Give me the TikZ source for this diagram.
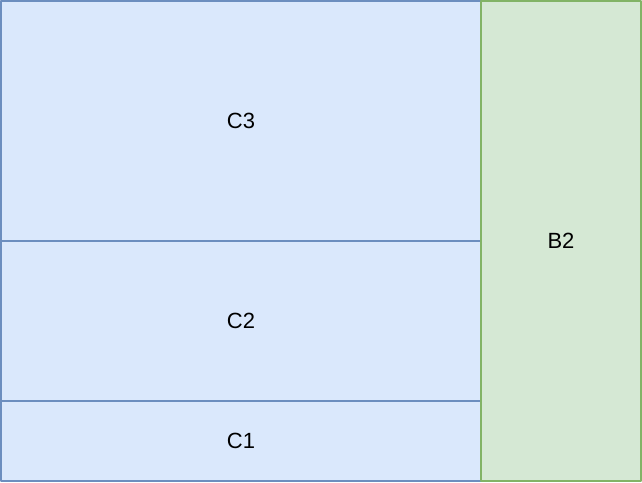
\documentclass[tikz,border=0pt]{standalone}
\usepackage{fontspec}
\setmainfont{Liberation Sans}
\definecolor{blueFill}{HTML}{DAE8FC}
\definecolor{blueLine}{HTML}{6C8EBF}
\definecolor{greenFill}{HTML}{D5E8D4}
\definecolor{greenLine}{HTML}{82B366}
\tikzset{
  cblock/.style={draw=blueLine, fill=blueFill, line width=1.5pt,
    inner sep=0pt, outer sep=0pt, font=\fontsize{16.5pt}{19pt}\selectfont},
  bblock/.style={draw=greenLine, fill=greenFill, line width=1.5pt,
    inner sep=0pt, outer sep=0pt, font=\fontsize{16.5pt}{19pt}\selectfont}
}
\begin{document}
\begin{tikzpicture}[x=0.75pt, y=-0.75pt, line cap=round, line join=round]
  \useasboundingbox (0,0) rectangle (642,482);

  % blocchi C
  \node[cblock, minimum width=480*0.75pt, minimum height=240*0.75pt] (c3) at (241,121) {C3};
  \node[cblock, minimum width=480*0.75pt, minimum height=160*0.75pt] (c2) at (241,321) {C2};
  \node[cblock, minimum width=480*0.75pt, minimum height=80*0.75pt] (c1) at (241,441) {C1};

  % blocco B
  \node[bblock, minimum width=160*0.75pt, minimum height=480*0.75pt] (b2) at (561,241) {B2};
\end{tikzpicture}
\end{document}
